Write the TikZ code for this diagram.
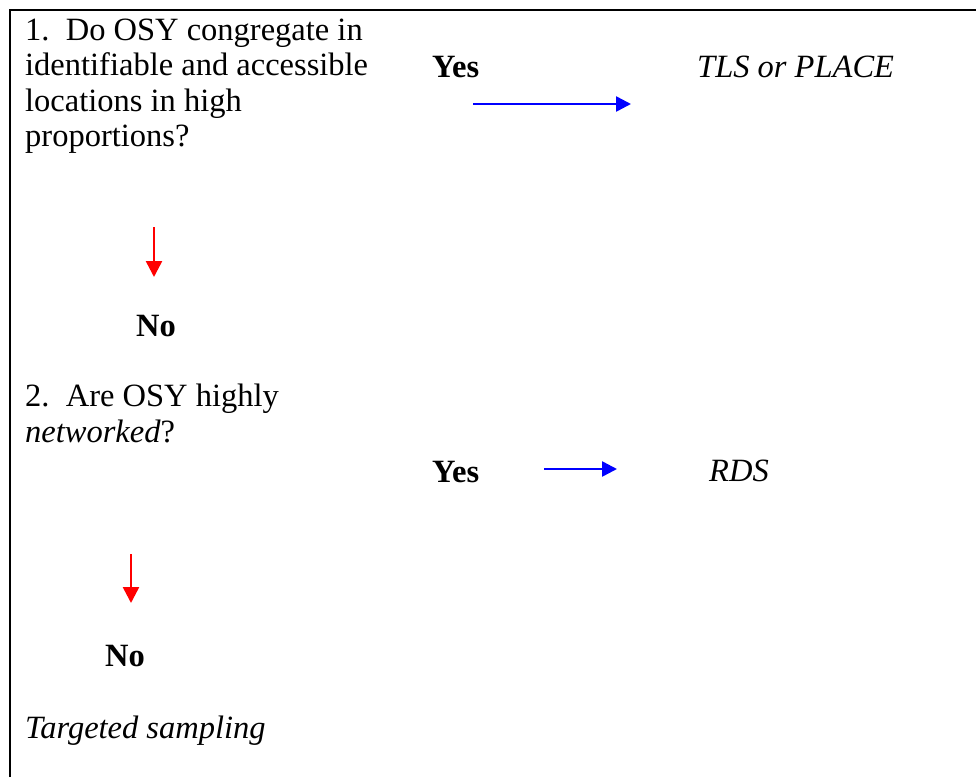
\documentclass[tikz,border=0pt]{standalone}
\usepackage{fontspec}
\setmainfont{Liberation Serif}
\usetikzlibrary{arrows.meta}
\begin{document}
\begin{tikzpicture}[x=1pt,y=-1pt,
  txt/.style={anchor=base west,inner sep=0pt,align=left,
    font=\fontsize{32.5}{35.5}\selectfont},
  boldtxt/.style={txt,font=\fontsize{32.5}{35.5}\selectfont\bfseries},
  ittxt/.style={txt,font=\fontsize{32.5}{35.5}\selectfont\itshape},
  yesarrow/.style={draw=blue,line width=2.5pt,-{Triangle[length=15pt,width=15pt]}},
  noarrow/.style={draw=red,line width=2.5pt,-{Triangle[length=16pt,width=16pt]}},
]
\useasboundingbox (0,0) rectangle (976,777);
\fill[white] (0,0) rectangle (976,777);

% open frame: left and top edges
\draw[line width=2pt] (10,777) -- (10,10) -- (976,10);

% question 1 (node placed by the baseline of its last line)
\node[txt] (q1) at (25,146.5) {1.\ \ Do OSY congregate in\\identifiable and accessible\\locations in high\\proportions?};
\node[boldtxt] (yes1) at (432,77) {Yes};
\node[ittxt] (tls) at (697,77) {TLS or PLACE};
\coordinate (y1s) at (473,104);
\coordinate (y1e) at (631,104);
\draw[yesarrow] (y1s) -- (y1e);

\coordinate (n1s) at (154,227);
\coordinate (n1e) at (154,277);
\draw[noarrow] (n1s) -- (n1e);
\node[boldtxt] (no1) at (136,336) {No};

% question 2
\node[txt] (q2) at (25,442) {2.\ \ Are OSY highly\\\textit{networked}?};
\node[boldtxt] (yes2) at (432,482) {Yes};
\node[ittxt] (rds) at (709,481) {RDS};
\coordinate (y2s) at (544,469);
\coordinate (y2e) at (617,469);
\draw[yesarrow] (y2s) -- (y2e);

\coordinate (n2s) at (131,554);
\coordinate (n2e) at (131,603);
\draw[noarrow] (n2s) -- (n2e);
\node[boldtxt] (no2) at (105,666) {No};

\node[ittxt] (ts) at (25,738) {Targeted sampling};
\end{tikzpicture}
\end{document}
